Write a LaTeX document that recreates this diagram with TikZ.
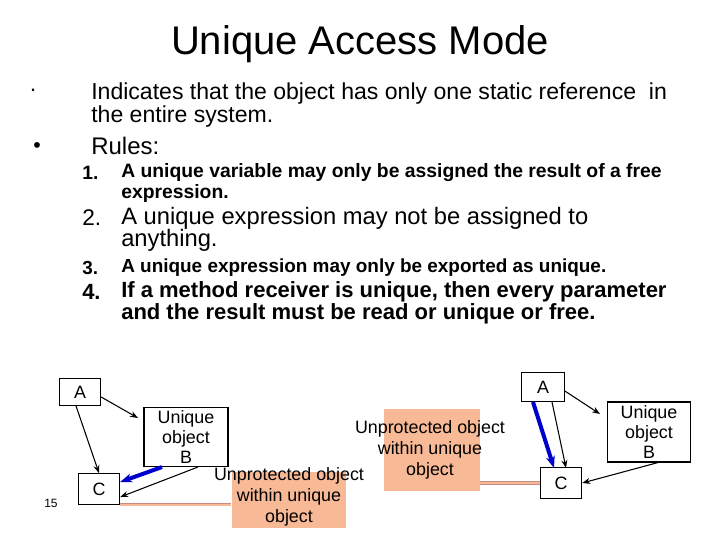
\documentclass[tikz,border=0pt]{standalone}
\usepackage{fontspec}
\setmainfont{Liberation Sans}
\usetikzlibrary{arrows.meta}
\definecolor{orng}{RGB}{248,185,150}
\definecolor{pnk}{RGB}{200,140,130}
\begin{document}
\begin{tikzpicture}[x=0.75pt,y=-0.75pt,
 bx/.style={draw,thick,fill=white,inner sep=2pt,align=center,font=\fontsize{13.4}{15}\selectfont},
 ob/.style={fill=orng,inner sep=0pt},
 tx/.style={anchor=west,inner sep=0pt},
 ar/.style={-{Stealth[length=6pt]},thick},
 bl/.style={-{Stealth[length=9pt]},line width=3pt,blue!80!black},
 pk/.style={double=orng,draw=pnk,double distance=1.5pt}]
\useasboundingbox (0,0) rectangle (720,540);
\node at (360,44) {\fontsize{30}{32}\selectfont Unique Access Mode};
\node[tx] at (29,93) {\fontsize{17}{18}\selectfont ·};
\node[tx] (l1) at (91,94) {\fontsize{17.3}{18}\selectfont Indicates that the object has only one static reference\ \ in};
\node[tx] (l2) at (91,117) {\fontsize{17.3}{18}\selectfont the entire system.};
\node[tx] at (33,148) {\fontsize{16}{18}\selectfont •};
\node[tx] (ru) at (91,146) {\fontsize{18}{18}\selectfont Rules:};
\begin{scope}[every node/.style={tx}]
\node at (82,173) {\fontsize{14.5}{16}\selectfont\bfseries 1.};
\node (r1a) at (121,173) {\fontsize{14.5}{16}\selectfont\bfseries A unique variable may only be assigned the result of a free};
\node (r1b) at (121,193) {\fontsize{14.5}{16}\selectfont\bfseries expression.};
\node at (82,218) {\fontsize{17}{18}\selectfont 2.};
\node (r2a) at (121,218) {\fontsize{17.8}{18}\selectfont A unique expression may not be assigned to};
\node (r2b) at (121,240) {\fontsize{17.8}{18}\selectfont anything.};
\node at (82,268) {\fontsize{14.2}{16}\selectfont\bfseries 3.};
\node (r3) at (121,268) {\fontsize{14.2}{16}\selectfont\bfseries A unique expression may only be exported as unique.};
\node at (82,292) {\fontsize{16.5}{18}\selectfont\bfseries 4.};
\node (r4a) at (121,292) {\fontsize{16.5}{18}\selectfont\bfseries If a method receiver is unique, then every parameter};
\node (r4b) at (121,314) {\fontsize{16.5}{18}\selectfont\bfseries and the result must be read or unique or free.};
\node (pg) at (44,503) {\fontsize{9}{10}\selectfont 15};
\end{scope}
% left diagram
\node[bx,minimum width=31pt,minimum height=20pt] (A1) at (80,392) {A};
\node[bx,minimum width=63pt,minimum height=44pt] (B1) at (186,437) {Unique\\object\\B};
\node[bx,minimum width=31pt,minimum height=23pt] (C1) at (99,489) {C};
\node[ob,minimum width=86pt,minimum height=42pt] (O1) at (289,500) {};
\node[align=center,font=\fontsize{13.4}{16}\selectfont] (T1) at (289,497) {Unprotected object\\within unique\\object};
\draw[ar] (A1.east) ++(0,5) -- (138,418);
\draw[ar] (A1.south) ++(-4,0) -- (C1.north);
\draw[bl] (162,467) -- (C1.east|-0,482);
\draw[ar] (198,467) -- (C1.east|-0,497);
\draw[pk] (C1.south east) -- (O1.west|-C1.south east);
% right diagram
\node[bx,minimum width=32pt,minimum height=22pt] (A2) at (543,387) {A};
\node[bx,minimum width=62pt,minimum height=45pt] (B2) at (649,432) {Unique\\object\\B};
\node[bx,minimum width=31pt,minimum height=23pt] (C2) at (561,483) {C};
\node[ob,minimum width=72pt,minimum height=62pt] (O2) at (432,450) {};
\node[align=center,font=\fontsize{13.4}{16}\selectfont] (T2) at (430,450) {Unprotected object\\within unique\\object};
\draw[ar] (A2.east) ++(0,4) -- (600,414);
\draw[bl] (533,402) -- (554,468);
\draw[ar] (552,402) -- (566,468);
\draw[ar] (660,462) -- (C2.east);
\draw[pk] (O2.east|-C2.west) -- (C2.west);
\end{tikzpicture}
\end{document}
